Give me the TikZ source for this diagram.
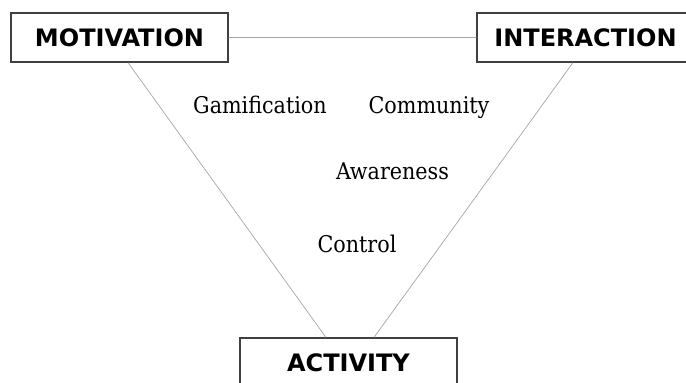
\documentclass[tikz,border=0pt]{standalone}
\usepackage{fontspec}
\setmainfont{DejaVu Serif Condensed}
\newfontfamily\boxfont{DejaVu Sans}
\usetikzlibrary{positioning}

\begin{document}
\begin{tikzpicture}[x=1pt,y=-1pt,
      corner/.style={draw=black!75,line width=1.2pt,minimum width=217pt,minimum height=49pt,
        inner sep=0pt,font=\boxfont\bfseries\fontsize{24}{24}\selectfont},
      tag/.style={font=\fontsize{23}{23}\selectfont,inner sep=0pt,anchor=base},
      link/.style={draw=black!35,line width=0.7pt}]
	\useasboundingbox (0,0) rectangle (686,383);
	\node[corner] (motivation) at (119.5,37.5) {MOTIVATION};
	\node[corner] (interaction) at (585.5,37.5) {INTERACTION};
	\node[corner] (activity) at (348.5,362.5) {ACTIVITY};
	\node[tag] (gamification) at (260,113) {Gamification};
	\node[tag] (community) at (429,113) {Community};
	\node[tag] (awareness) at (392.5,179) {Awareness};
	\node[tag] (control) at (357,252) {Control};
	\path[link]
		(motivation.east) -- (interaction.west)
		([xshift=8.5pt]motivation.south) -- ([xshift=-22.5pt]activity.north)
		([xshift=-12.5pt]interaction.south) -- ([xshift=25.5pt]activity.north);
\end{tikzpicture}
\end{document}
